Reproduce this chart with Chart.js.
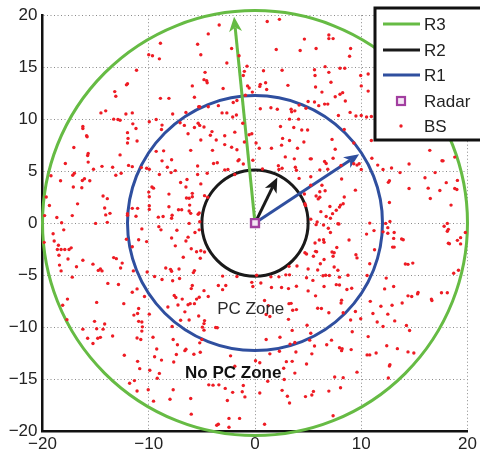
<!DOCTYPE html>
<html><head><meta charset="utf-8">
<script src="https://cdn.jsdelivr.net/npm/chart.js@4"></script>
<style>html,body{margin:0;padding:0;background:#fff}#wrap{width:480px;height:462px;position:relative}</style>
</head><body><div id="wrap"><canvas id="c" width="480" height="462"></canvas></div>
<script>
// ---- data ----
const xTickValues = [-20, -10, 0, 10, 20];
const yTickValues = [-20, -15, -10, -5, 0, 5, 10, 15, 20];
const ringLabels = ['R3', 'R2', 'R1'];
const ringRadii = [20, 5, 12];
const ringColors = ['#66bb44', '#1a1a1a', '#2f4f9f'];
const arrowEndX = [-1.97, 2.1, 9.8];
const arrowEndY = [19.85, 4.39, 6.62];
const radarX = [0];
const radarY = [0];
const zoneLabels = ['PC Zone', 'No PC Zone'];
const zoneX = [-0.4, -2.05];
const zoneY = [-8.3, -14.43];
const bsPoints = [
[-3.37,19.06],[-4.4,18.2],[-5.4,17.2],[-8.9,17.3],[-5.1,16.2],[-10.0,16.2],[-9.65,16.1],[-9.0,15.8],[-2.2,16.8],[-1.5,16.1],[-2.65,15.4],[-0.75,15.1],[-4.7,14.5],[-1.0,14.6],[-1.1,14.2],[-4.8,13.8],[-4.55,13.7],[-4.5,13.5],[-11.15,14.7],[-12.0,13.4],[-12.1,13.3],[-5.9,13.2],[-3.0,12.95],[-0.7,13.2],[-0.55,13.0],[-0.25,12.6],[-13.2,12.65],[-13.1,12.2],[-5.7,12.1],[-8.9,12.0],[-8.1,12.0],[-0.9,12.3],[-5.3,11.2],[-5.2,11.2],[-4.4,11.2],[-3.45,11.3],[-2.05,11.6],[-1.7,11.8],[-14.05,10.8],[-14.5,10.6],[-12.15,10.5],[-11.55,10.6],[-7.75,10.5],[-6.5,10.65],[-3.1,10.6],[-2.65,10.6],[-1.75,10.4],[-2.1,10.2],[-13.3,10.0],[-12.9,9.96],[-12.7,9.9],[-9.95,9.75],[-9.3,9.96],[-8.75,9.43],[-8.8,9.0],[-7.05,9.65],[-6.65,9.4],[-5.35,9.6],[-5.2,9.4],[-5.7,9.2],[-4.8,9.25],[-1.15,9.6],[-16.2,9.3],[-16.2,9.1],[-11.5,9.55],[-11.2,9.1],[-15.85,8.4],[-15.8,8.3],[-12.0,8.7],[-6.3,8.6],[-4.05,8.8],[-4.2,8.45],[-2.85,8.4],[-1.9,8.75],[-0.55,8.5],[-0.3,8.6],[-11.95,8.15],[-11.1,7.9],[-12.0,7.7],[-5.1,8.0],[-3.65,8.0],[-2.85,7.55],[-1.0,7.8],[-17.05,7.27],[-2.2,7.3],[-1.7,7.05],[-6.05,7.0],[-4.0,7.0],[-8.6,6.95],[-9.3,6.9],[-15.7,6.7],
[1.15,19.4],[2.3,19.6],[4.65,17.7],[6.95,18.1],[6.95,17.75],[7.35,17.75],[2.0,16.7],[4.25,16.6],[5.75,16.8],[9.0,16.8],[8.9,16.05],[0.8,14.65],[2.55,14.7],[6.6,15.05],[5.6,14.75],[5.65,14.2],[8.0,14.9],[8.45,14.9],[6.95,14.5],[7.15,13.55],[9.95,14.2],[10.65,14.35],[0.5,13.35],[0.45,13.15],[1.0,13.5],[1.1,12.85],[3.1,13.25],[5.7,13.1],[10.0,13.2],[10.65,12.7],[6.3,12.6],[8.25,12.55],[8.0,12.4],[7.55,12.15],[8.5,11.75],[5.0,11.7],[5.6,11.65],[6.0,11.3],[6.55,11.45],[6.85,11.45],[4.15,11.35],[0.5,11.0],[1.5,11.1],[2.1,10.95],[3.4,10.95],[3.45,10.7],[3.75,10.8],[4.8,11.05],[7.85,10.35],[8.95,10.65],[9.5,10.3],[10.0,10.35],[10.5,10.2],[10.95,10.25],[3.25,10.0],[4.1,10.0],[2.4,9.3],[3.65,9.2],[4.4,8.95],[4.95,8.95],[8.4,9.0],[2.6,8.15],[3.25,7.95],[4.6,7.8],[7.25,8.05],[0.1,7.7],[2.5,7.5],[0.4,7.2],[1.55,7.2],[4.0,7.2],[7.55,7.1],[9.3,7.7],[10.95,7.95],[16.45,7.0],[18.8,6.35],[17.6,6.0],
[-15.75,6.5],[-15.7,5.87],[-12.7,6.56],[-17.85,5.74],[-15.2,5.18],[-14.4,5.46],[-13.4,5.37],[-11.9,5.55],[-11.55,5.43],[-12.6,4.8],[-13.1,4.6],[-17.0,4.8],[-17.15,4.6],[-19.2,4.55],[-18.3,4.08],[-16.25,4.1],[-16.05,4.27],[-15.55,4.08],[-17.1,3.48],[-16.3,3.4],[-10.7,5.34],[-10.2,5.27],[-9.95,5.18],[-8.75,5.99],[-7.85,6.09],[-8.25,5.37],[-9.0,4.68],[-7.9,4.86],[-7.5,5.05],[-5.4,5.49],[-5.4,4.68],[-4.5,4.8],[-3.9,5.74],[-3.55,5.8],[-2.85,5.12],[-2.55,5.15],[-1.6,5.99],[-1.5,6.1],[-1.1,5.68],[-0.2,6.05],[-1.9,4.68],[-6.4,4.2],[-7.0,3.9],[-5.1,3.77],[-9.7,3.48],[-9.55,3.36],[-6.5,3.48],[-5.9,2.86],[-5.9,2.54],[-6.45,2.42],[-6.2,2.39],[-8.1,2.79],[-10.0,2.98],[-9.95,2.54],[-4.75,2.64],[-4.45,2.48],[-14.3,2.6],[-13.9,2.35],[-19.65,2.51],[-16.7,1.85],[-19.35,1.7],[-14.15,1.45],[-14.05,0.79],[-13.65,0.94],[-11.55,1.42],[-11.05,1.42],[-12.0,0.91],[-12.0,0.76],[-11.2,0.66],[-9.95,1.67],[-9.95,1.32],[-8.1,1.57],[-7.2,1.29],[-6.9,1.29],[-7.8,0.76],[-7.85,0.47],[-8.65,0.63],[-9.1,0.57],[-6.15,1.73],[-6.2,1.17],[-6.05,0.94],[-5.25,0.97],[-5.35,0.85],[-17.2,0.72],[-18.65,0.54],[-19.8,0.72],[-13.9,0.07],[-15.0,-0.03],[-18.2,0.04],[-18.0,-0.65],[-9.05,-0.34],[-8.85,-0.65],[-7.35,-0.69],[-6.2,-0.03],[-5.2,0.13],[-5.25,-0.65],[-5.65,-0.9],[-10.65,-0.56],[-19.0,-1.03],[-12.1,-1.56],[-10.95,-1.6],[-7.85,-1.44],[-6.3,-1.35],[-6.5,-1.72],[-10.2,-1.78],[-19.85,-1.85],[-18.9,-1.72],[-18.5,-2.13],[-18.6,-2.54],[-18.25,-2.54],[-17.9,-2.54],[-17.5,-2.54],[-17.3,-2.38],[-18.45,-3.1],[-11.55,-2.28],[-7.5,-2.19],[-6.0,-2.47],[-5.5,-2.75],[-5.1,-2.66],[-4.75,-2.78],[-5.15,-3.38],[-6.75,-3.28],[-17.6,-3.45],[-16.2,-3.57],[-13.3,-3.32],[-13.05,-3.42],[-12.5,-3.85],[-12.65,-4.32],[-15.25,-3.95],[-18.4,-4.04],[-18.25,-4.6],[-16.8,-4.2],[-14.55,-4.42],[-14.4,-4.6],[-14.75,-4.55],[-11.45,-4.6],[-10.15,-4.7],[-8.4,-4.32],[-7.95,-4.45],[-7.85,-4.63],[-7.15,-4.42],[-5.7,-4.57],[-5.8,-4.76],[-17.2,-5.2],[-9.45,-5.14],[-8.75,-5.42],[-7.75,-5.55],[-7.1,-5.33],[-5.9,-6.0],[-6.0,-6.3],[-4.8,-6.5],[-3.05,-5.1],[-3.45,-6.0],[-3.05,-6.4],[-2.75,-6.0],[-1.7,-5.14],[-0.3,-5.7],[-0.2,-6.1],[-13.85,-5.8],[-12.85,-5.9],[-11.55,-6.65],[-11.1,-6.33],
[0.7,5.2],[2.2,5.52],[2.25,5.15],[2.55,5.27],[2.85,6.37],[3.7,6.18],[3.8,5.37],[3.9,5.08],[5.2,6.18],[5.3,6.18],[6.55,5.93],[6.7,5.74],[6.1,5.12],[6.85,5.18],[7.35,6.24],[8.1,5.55],[9.3,5.71],[9.6,5.58],[9.8,5.71],[10.0,5.15],[4.15,4.3],[5.25,4.46],[8.15,4.24],[11.0,6.24],[11.55,5.58],[12.05,5.15],[12.85,5.3],[13.65,4.86],[14.5,5.68],[16.95,4.86],[17.7,5.99],[16.0,4.36],[12.65,4.08],[12.55,3.92],[18.0,3.89],[19.05,4.11],[19.0,3.23],[18.8,3.33],[16.3,3.36],[17.4,3.14],[14.5,3.33],[16.5,2.36],[18.45,1.73],[6.3,3.64],[6.1,3.02],[6.6,3.11],[5.25,3.64],[5.75,2.61],[6.1,2.48],[5.95,2.33],[4.65,2.8],[4.75,1.7],[4.7,1.86],[8.4,2.51],[9.45,3.17],[7.05,1.6],[8.05,1.73],[7.95,1.54],[8.3,1.86],[7.65,1.23],[7.3,0.91],[6.2,1.1],[6.7,0.63],[7.1,0.47],[5.25,0.38],[12.65,1.98],[5.85,0.1],[5.75,-0.15],[6.45,-0.18],[7.8,-0.06],[7.9,-0.09],[6.9,-0.5],[7.1,-0.9],[10.8,0.0],[10.5,-1.06],[12.3,-0.03],[12.7,0.16],[12.5,-0.44],[12.05,-0.84],[12.5,-0.97],[13.1,-0.9],[11.2,-0.72],[18.1,-0.03],[18.2,-0.6],[18.1,-0.78],[17.8,-0.31],[19.8,-0.9],[19.35,-1.4],[19.05,-1.66],[18.2,-1.94],[13.05,-1.47],[13.1,-2.31],[12.95,-2.31],[13.8,-1.53],[11.25,-2.56],[5.65,-1.91],[6.05,-1.63],[6.45,-1.6],[6.5,-1.84],[8.85,-1.63],[5.7,-2.72],[5.8,-2.75],[4.85,-2.97],[4.7,-2.85],[7.25,-2.78],[7.45,-2.85],[7.7,-2.35],[7.35,-3.19],[9.5,-3.04],[9.6,-3.35],[5.5,-3.19],[6.5,-3.5],[6.15,-3.91],[3.95,-4.13],[3.2,-4.16],[7.45,-4.23],[7.8,-4.54],[5.0,-4.42],[5.9,-4.51],[10.8,-3.91],[10.55,-5.04],[14.15,-3.94],[14.4,-3.97],[14.85,-3.85],[0.15,-5.01],[1.5,-5.17],[2.25,-5.17],[2.9,-4.98],[3.25,-4.98],[4.85,-5.26],[5.45,-5.51],[6.4,-5.07],[6.65,-5.01],[7.0,-5.04],[7.95,-5.2],[8.75,-5.01],[19.15,-4.54],[18.7,-4.82],[0.55,-5.76],[1.55,-6.2],[2.5,-6.2],[3.15,-6.3],[3.9,-6.08],[5.0,-6.52],[6.5,-6.1],[7.65,-5.92],[7.95,-5.95],[8.65,-6.39],[9.1,-6.27],[12.35,-5.29],[12.2,-6.33],[13.05,-6.1],[15.35,-6.67],[17.55,-6.7],[18.1,-6.7],[13.95,-1.6],[18.3,-1.98],[19.35,-2.0],
[-17.65,-7.31],[-18.1,-7.91],[-17.7,-9.29],[-14.9,-7.63],[-12.35,-7.75],[-10.95,-8.22],[-11.05,-8.69],[-10.4,-7.06],[-9.95,-8.76],[-15.1,-9.45],[-14.15,-9.7],[-14.9,-10.17],[-14.3,-10.2],[-16.2,-10.2],[-13.4,-10.86],[-14.55,-10.99],[-14.8,-11.08],[-15.75,-11.08],[-15.25,-11.58],[-11.4,-8.85],[-10.95,-9.45],[-10.65,-9.51],[-10.6,-9.98],[-10.65,-10.39],[-11.1,-11.05],[-10.75,-11.2],[-12.3,-12.71],[-11.05,-13.3],[-10.85,-14.0],[-11.8,-15.4],[-11.35,-15.15],[-11.1,-16.15],[-10.05,-16.03],[-9.9,-14.15],[-9.0,-14.46],[-9.2,-14.93],[-9.6,-10.98],[-9.25,-12.11],[-9.45,-12.86],[-8.8,-13.18],[-7.7,-11.2],[-7.3,-11.7],[-7.4,-12.64],[-7.65,-13.36],[-6.6,-12.27],[-6.5,-12.14],[-5.75,-12.61],[-5.15,-12.42],[-5.0,-11.2],[-5.2,-11.52],[-7.7,-16.03],[-8.0,-16.94],[-9.55,-17.13],[-6.0,-18.38],[-6.05,-16.88],[-4.35,-15.56],[-3.95,-15.59],[-3.4,-15.56],[-2.8,-15.9],[-2.1,-16.28],[-1.1,-15.62],[-1.2,-16.22],[-0.95,-16.72],[-2.6,-17.06],[-2.45,-18.79],[-1.45,-18.79],[-3.6,-19.45],[-3.45,-19.35],[-2.45,-19.64],[-2.3,-12.77],[-1.9,-13.77],[-7.6,-6.97],[-7.45,-7.16],[-6.85,-7.31],[-6.3,-7.85],[-6.1,-7.75],[-5.5,-7.31],[-5.25,-7.13],[-4.4,-7.06],[-5.7,-7.75],[-8.2,-8.07],[-7.25,-7.88],[-6.6,-8.54],[-5.3,-8.94],[-4.75,-9.38],[-4.8,-9.67],[-4.95,-10.01],[-4.8,-10.3],[-6.2,-9.32],[-7.0,-9.35],[-7.8,-9.95],[-3.7,-10.04],[-3.55,-10.07],
[0.9,-7.44],[1.25,-7.94],[1.05,-8.79],[1.4,-8.98],[3.2,-7.75],[3.4,-7.72],[3.55,-8.38],[3.9,-8.32],[5.7,-7.0],[8.15,-7.41],[8.1,-7.69],[8.3,-8.63],[5.9,-8.19],[6.25,-8.22],[6.95,-8.63],[9.45,-8.5],[10.85,-7.53],[11.85,-8.0],[11.1,-8.69],[11.5,-9.51],[12.9,-7.91],[12.5,-8.76],[13.85,-7.69],[14.4,-7.0],[14.75,-7.06],[15.3,-6.81],[16.6,-7.31],[16.65,-7.44],[12.05,-9.95],[13.15,-9.41],[14.25,-9.85],[14.55,-10.33],[9.95,-9.2],[3.15,-9.26],[3.5,-10.32],[4.9,-9.82],[9.0,-9.32],[9.15,-10.45],[5.25,-10.6],[7.2,-11.26],[6.75,-11.7],[1.05,-11.2],[2.35,-10.98],[3.75,-11.48],[3.85,-12.4],[3.3,-11.64],[5.15,-11.26],[5.6,-11.83],[5.35,-12.58],[7.95,-11.99],[8.15,-12.27],[8.2,-12.08],[9.05,-12.17],[2.3,-12.33],[1.4,-12.58],[10.65,-10.92],[12.4,-11.8],[13.4,-12.08],[14.4,-12.39],[14.95,-12.49],[10.55,-12.68],[10.8,-12.68],[11.4,-12.49],[12.7,-13.62],[12.65,-13.74],[12.55,-14.9],[9.6,-14.34],[7.5,-14.81],[8.3,-14.87],[4.85,-13.55],[2.95,-13.33],[3.5,-13.3],[2.7,-13.96],[3.75,-14.43],[0.45,-13.43],[0.05,-13.24],[1.2,-15.21],[2.75,-15.05],[0.45,-16.34],[2.55,-16.09],[3.05,-16.66],[3.25,-17.3],[4.75,-16.69],[5.35,-16.53],[5.5,-16.19],[6.95,-16.16],[8.05,-15.84],[7.35,-18.54],[0.9,-19.35]
];

// ---- style ----
const FONT = '"Liberation Sans", Arial, sans-serif';
const fmt = v => (v < 0 ? '\u2212' + Math.abs(v) : String(v));

const shapes = {
  id: 'shapes',
  beforeDatasetsDraw(chart) {
    const ctx = chart.ctx, xs = chart.scales.x, ys = chart.scales.y;
    const cx = xs.getPixelForValue(radarX[0]), cy = ys.getPixelForValue(radarY[0]);
    ctx.save();
    ringRadii.forEach((r, i) => {
      const rp = xs.getPixelForValue(radarX[0] + r) - cx;
      ctx.beginPath();
      ctx.arc(cx, cy, rp, 0, Math.PI * 2);
      ctx.lineWidth = 3;
      ctx.strokeStyle = ringColors[i];
      ctx.stroke();
    });
    arrowEndX.forEach((ex, i) => {
      const tx = xs.getPixelForValue(ex), ty = ys.getPixelForValue(arrowEndY[i]);
      const dx = tx - cx, dy = ty - cy, len = Math.hypot(dx, dy);
      const ux = dx / len, uy = dy / len, nx = -uy, ny = ux;
      const L = 15, W = 6.5;
      const bx = tx - ux * L, by = ty - uy * L;
      const mx = tx - ux * L * 0.72, my = ty - uy * L * 0.72;
      ctx.strokeStyle = ringColors[i];
      ctx.fillStyle = ringColors[i];
      ctx.lineWidth = 3;
      ctx.beginPath(); ctx.moveTo(cx, cy); ctx.lineTo(mx, my); ctx.stroke();
      ctx.beginPath();
      ctx.moveTo(tx, ty);
      ctx.lineTo(bx + nx * W, by + ny * W);
      ctx.lineTo(mx, my);
      ctx.lineTo(bx - nx * W, by - ny * W);
      ctx.closePath();
      ctx.fill();
    });
    ctx.restore();
  },
  afterDatasetsDraw(chart) {
    const ctx = chart.ctx, xs = chart.scales.x, ys = chart.scales.y;
    ctx.save();
    ctx.textAlign = 'center';
    ctx.textBaseline = 'middle';
    zoneLabels.forEach((t, i) => {
      ctx.font = (i === 1 ? 'bold ' : '') + '17px ' + FONT;
      ctx.fillStyle = i === 1 ? '#111' : '#2a2a2a';
      ctx.fillText(t, xs.getPixelForValue(zoneX[i]), ys.getPixelForValue(zoneY[i]));
    });
    ctx.restore();
  },
  afterDraw(chart) {
    const ctx = chart.ctx;
    ctx.save();
    ctx.fillStyle = '#fff';
    ctx.fillRect(375, 8, 120, 132);
    ctx.lineWidth = 3;
    ctx.strokeStyle = '#111';
    ctx.strokeRect(375, 8, 120, 132);
    const rows = [24, 50, 75, 101, 126];
    const labels = chart.data.datasets.map(d => d.label);
    ctx.font = '17px ' + FONT;
    ctx.textBaseline = 'middle';
    ctx.textAlign = 'left';
    labels.forEach((lab, i) => {
      const y = rows[i];
      if (i < 3) {
        ctx.beginPath(); ctx.moveTo(383, y); ctx.lineTo(420, y);
        ctx.lineWidth = 3; ctx.strokeStyle = ringColors[i]; ctx.stroke();
      } else if (lab === 'Radar') {
        ctx.fillStyle = '#f3e6f3'; ctx.fillRect(397, y - 4, 8, 8);
        ctx.lineWidth = 2.2; ctx.strokeStyle = '#a23ea0'; ctx.strokeRect(397, y - 4, 8, 8);
      } else {
        ctx.beginPath(); ctx.arc(401, y, 1.7, 0, Math.PI * 2); ctx.fillStyle = '#ee1c24'; ctx.fill();
      }
      ctx.fillStyle = '#222';
      ctx.fillText(lab, 424, y + 1);
    });
    ctx.restore();
  }
};

new Chart(document.getElementById('c'), {
  type: 'scatter',
  data: {
    datasets: [
      { label: ringLabels[0], data: [] },
      { label: ringLabels[1], data: [] },
      { label: ringLabels[2], data: [] },
      { label: 'Radar', data: radarX.map((x, i) => ({ x, y: radarY[i] })),
        pointStyle: 'rect', pointRadius: 5.6, pointBorderWidth: 2.4,
        pointBorderColor: '#a23ea0', pointBackgroundColor: '#f3e6f3', order: 0 },
      { label: 'BS', data: bsPoints.map(p => ({ x: p[0], y: p[1] })),
        pointStyle: 'circle', pointRadius: 1.7, pointBorderWidth: 0,
        pointBackgroundColor: '#ee1c24', order: 1 }
    ]
  },
  options: {
    animation: false,
    responsive: false,
    devicePixelRatio: 1,
    layout: { padding: { top: 6, right: 12.5, left: 0, bottom: 0 } },
    plugins: { legend: { display: false }, tooltip: { enabled: false } },
    scales: {
      x: {
        type: 'linear', min: -20, max: 20,
        afterBuildTicks: s => { s.ticks = xTickValues.map(v => ({ value: v })); },
        afterFit: s => { s.height = 31; },
        ticks: { callback: fmt, font: { family: FONT, size: 17 }, color: '#222', padding: 3, maxRotation: 0 },
        grid: { color: '#8a8a8a', lineWidth: 1, drawTicks: false },
        border: { display: true, color: '#111', width: 2.5, dash: [1, 2.5] }
      },
      y: {
        type: 'linear', min: -20, max: 20,
        afterBuildTicks: s => { s.ticks = yTickValues.map(v => ({ value: v })); },
        afterFit: s => { s.width = 42.5; },
        ticks: { callback: fmt, font: { family: FONT, size: 17 }, color: '#222', padding: 5 },
        grid: { color: '#8a8a8a', lineWidth: 1, drawTicks: false },
        border: { display: true, color: '#111', width: 2.5, dash: [1, 2.5] }
      }
    }
  },
  plugins: [shapes]
});
</script></body></html>
